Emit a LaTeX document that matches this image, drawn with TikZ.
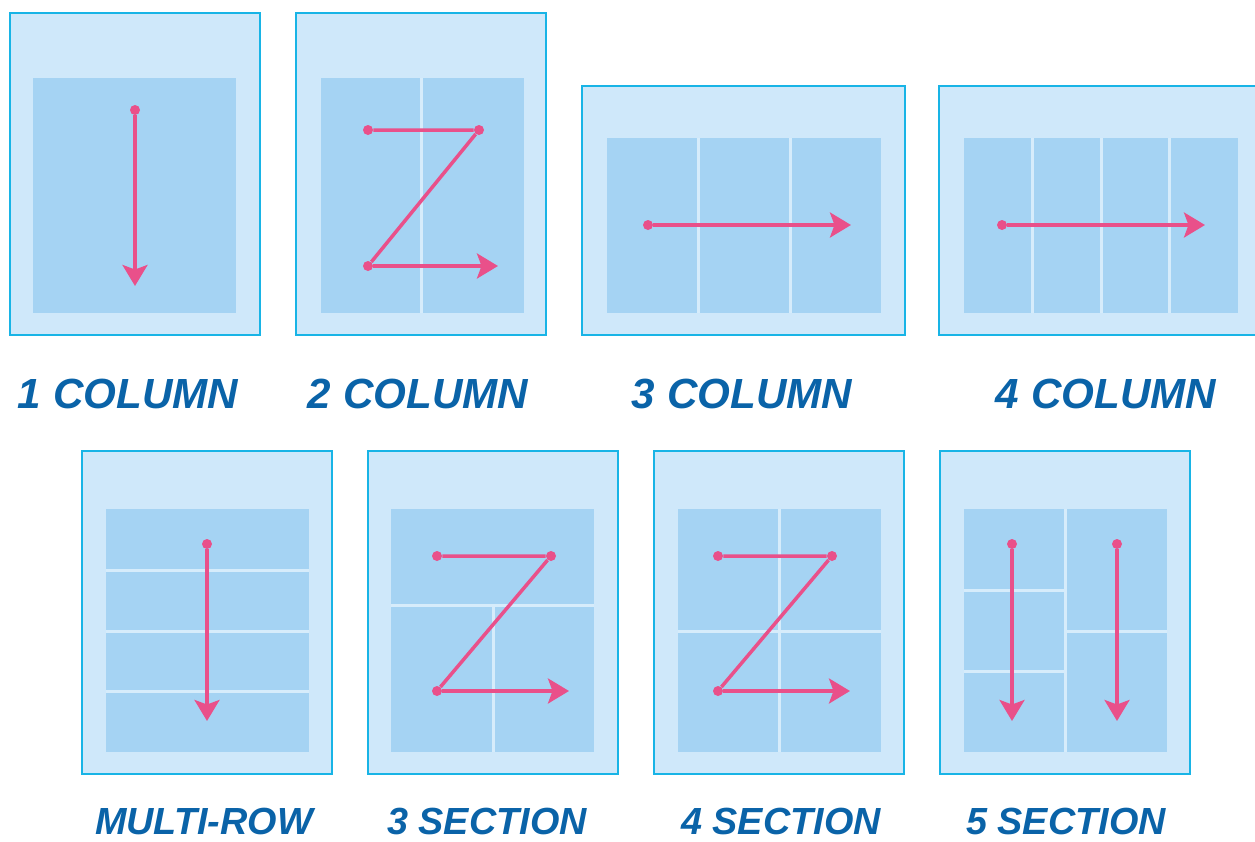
\documentclass[tikz,border=0pt]{standalone}
\usepackage{fontspec}
\setmainfont{Liberation Sans}
\usetikzlibrary{arrows.meta}
\definecolor{pagefill}{HTML}{CFE8FA}
\definecolor{pageline}{HTML}{18B4E6}
\definecolor{colfill}{HTML}{A5D3F3}
\definecolor{gapfill}{HTML}{D6ECFB}
\definecolor{flowpink}{HTML}{E9508A}
\definecolor{lblblue}{HTML}{0A63A8}
\tikzset{
  page/.style={draw=pageline, fill=pagefill, line width=0.05cm},
  grid/.style={fill=colfill},
  gap/.style={draw=gapfill, line width=0.06cm},
  dot/.style={circle, fill=flowpink, inner sep=0pt, minimum size=0.2cm},
  flow/.style={draw=flowpink, line width=0.07cm,
               -{Stealth[length=0.42cm, width=0.5cm, inset=0.09cm]}},
  plain/.style={draw=flowpink, line width=0.07cm},
  lbl/.style={font=\bfseries\itshape\fontsize{24}{27}\selectfont,
              text=lblblue, anchor=base, inner sep=0pt},
  lblsmall/.style={lbl, font=\bfseries\itshape\fontsize{21.5}{24}\selectfont}
}

\begin{document}
\begin{tikzpicture}[x=0.02cm, y=-0.02cm]
\clip (0,0) rectangle (1255,842);
\fill[white] (0,0) rectangle (1255,842);
% 1 column
\draw[page] (10,13) rectangle (260,335);
\fill[grid] (33,78) rectangle (236,313);
\node[dot] (a1) at (135,110) {};
\coordinate (b1) at (135,286);
\draw[flow] (a1) -- (b1);
\node[lbl] (l1) at (128,408) {1 COLUMN};
% 2 column
\draw[page] (296,13) rectangle (546,335);
\fill[grid] (321,78) rectangle (524,313);
\draw[gap] (421,78) -- (421,313);
\node[dot] (a2) at (368,130) {};
\node[dot] (b2) at (479,130) {};
\node[dot] (c2) at (368,266) {};
\coordinate (d2) at (498,266);
\draw[plain] (a2) -- (b2) -- (c2);
\draw[flow] (c2) -- (d2);
\node[lbl] (l2) at (418,408) {2 COLUMN};
% 3 column
\draw[page] (582,86) rectangle (905,335);
\fill[grid] (607,138) rectangle (881,313);
\foreach \x in {698,790} \draw[gap] (\x,138) -- (\x,313);
\node[dot] (a3) at (648,225) {};
\coordinate (b3) at (851,225);
\draw[flow] (a3) -- (b3);
\node[lbl] (l3) at (742,408) {3 COLUMN};
% 4 column
\draw[page] (939,86) rectangle (1275,335);
\fill[grid] (964,138) rectangle (1238,313);
\foreach \x in {1032,1101,1169} \draw[gap] (\x,138) -- (\x,313);
\node[dot] (a4) at (1002,225) {};
\coordinate (b4) at (1205,225);
\draw[flow] (a4) -- (b4);
\node[lbl] (l4) at (1106,408) {4 COLUMN};
% multi-row
\draw[page] (82,451) rectangle (332,774);
\fill[grid] (106,509) rectangle (309,752);
\foreach \y in {570,631,691} \draw[gap] (106,\y) -- (309,\y);
\node[dot] (a5) at (207,544) {};
\coordinate (b5) at (207,721);
\draw[flow] (a5) -- (b5);
\node[lblsmall] (l5) at (204,834) {MULTI-ROW};
% 3 section
\draw[page] (368,451) rectangle (618,774);
\fill[grid] (391,509) rectangle (594,752);
\draw[gap] (391,605) -- (594,605);
\draw[gap] (493,605) -- (493,752);
\node[dot] (a6) at (437,556) {};
\node[dot] (b6) at (551,556) {};
\node[dot] (c6) at (437,691) {};
\coordinate (d6) at (569,691);
\draw[plain] (a6) -- (b6) -- (c6);
\draw[flow] (c6) -- (d6);
\node[lblsmall] (l6) at (487,834) {3 SECTION};
% 4 section
\draw[page] (654,451) rectangle (904,774);
\fill[grid] (678,509) rectangle (881,752);
\draw[gap] (779,509) -- (779,752);
\draw[gap] (678,631) -- (881,631);
\node[dot] (a7) at (718,556) {};
\node[dot] (b7) at (832,556) {};
\node[dot] (c7) at (718,691) {};
\coordinate (d7) at (850,691);
\draw[plain] (a7) -- (b7) -- (c7);
\draw[flow] (c7) -- (d7);
\node[lblsmall] (l7) at (781,834) {4 SECTION};
% 5 section
\draw[page] (940,451) rectangle (1190,774);
\fill[grid] (964,509) rectangle (1167,752);
\draw[gap] (1065,509) -- (1065,752);
\foreach \y in {590,671} \draw[gap] (964,\y) -- (1065,\y);
\draw[gap] (1065,631) -- (1167,631);
\node[dot] (a8) at (1012,544) {};
\coordinate (b8) at (1012,721);
\draw[flow] (a8) -- (b8);
\node[dot] (c8) at (1117,544) {};
\coordinate (d8) at (1117,721);
\draw[flow] (c8) -- (d8);
\node[lblsmall] (l8) at (1066,834) {5 SECTION};
\end{tikzpicture}
\end{document}
